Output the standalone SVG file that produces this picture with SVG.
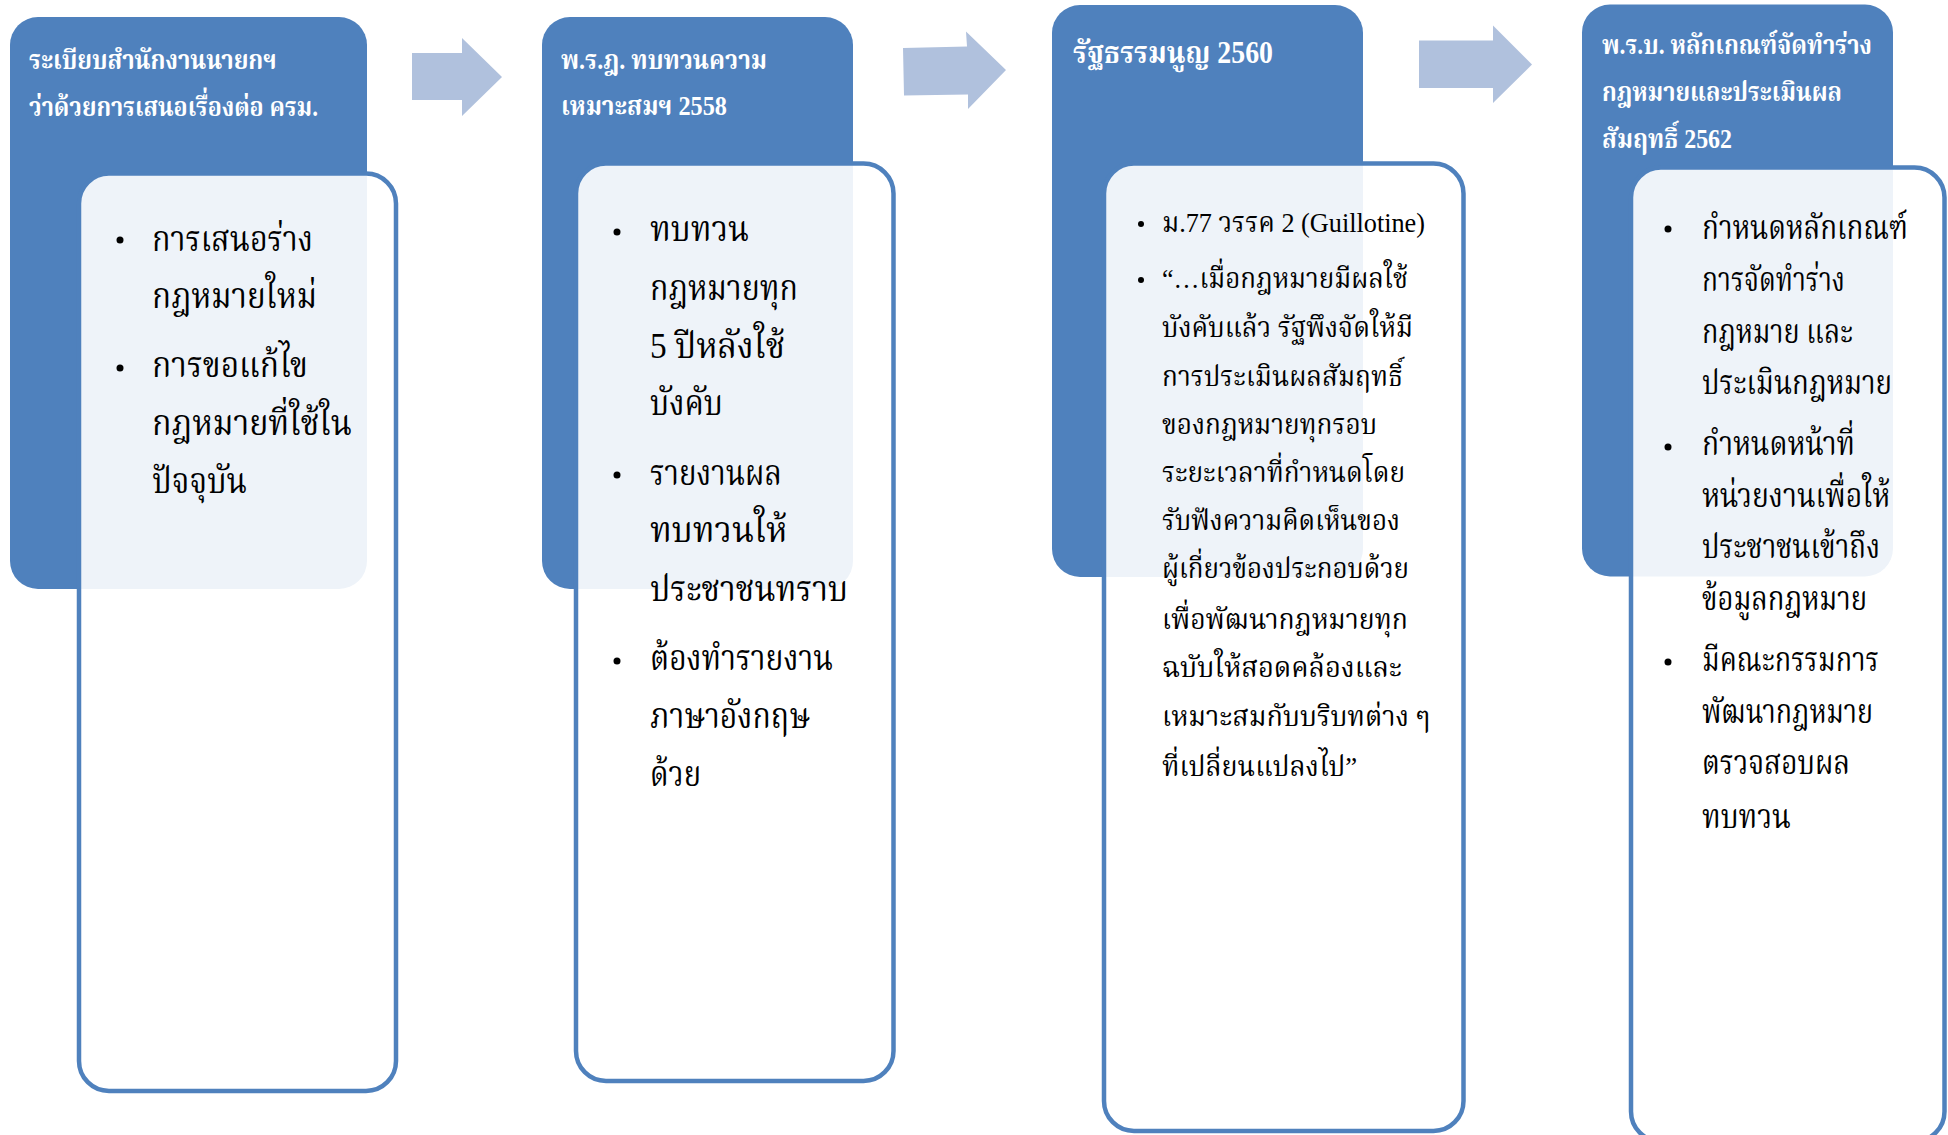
<svg xmlns="http://www.w3.org/2000/svg" width="1948" height="1135" viewBox="0 0 1948 1135">
<style>
.hdr{fill:#4F81BD}
.box{fill:#FFFFFF;fill-opacity:0.9;stroke:#4F81BD;stroke-width:4.5}
.arw{fill:#B0C1DD}
.t{font-family:"Liberation Serif","Noto Serif Thai","Noto Sans Thai",serif;font-weight:bold;fill:#FFFFFF;font-size:27px}
.b{font-family:"Liberation Serif","Noto Serif Thai","Noto Sans Thai",serif;fill:#000000}
.b1{font-size:36px}
.b3{font-size:28px}
.b4{font-size:33px}
.dot{fill:#000000}
</style>
<rect width="1948" height="1135" fill="#FFFFFF"/>
<g id="connectors">
<polygon class="arw" points="412,53 462,53 462,38 502,77 462,116 462,100 412,100"/>
<polygon class="arw" points="903,48 967,46.5 966,31.5 1006,70 968,109 968,94.5 904,95.5"/>
<polygon class="arw" points="1419,40.5 1493,40.5 1493,25.5 1532,64.5 1493,103 1493,88 1419,88"/>
</g>
<g id="node1">
<rect class="hdr" x="10" y="17" width="357" height="572" rx="28"/>
<rect class="box" x="79" y="173.5" width="317" height="917.5" rx="30"/>
<text class="t" x="29" y="69" textLength="248" lengthAdjust="spacingAndGlyphs">ระเบียบสำนักงานนายกฯ</text>
<text class="t" x="29" y="115.5" textLength="289" lengthAdjust="spacingAndGlyphs">ว่าด้วยการเสนอเรื่องต่อ ครม.</text>
<circle class="dot" cx="120" cy="240" r="3.5"/>
<circle class="dot" cx="120" cy="368" r="3.5"/>
<g class="b b1">
<text x="152" y="250.5" textLength="161" lengthAdjust="spacingAndGlyphs">การเสนอร่าง</text>
<text x="152" y="307.5" textLength="165" lengthAdjust="spacingAndGlyphs">กฎหมายใหม่</text>
<text x="152" y="377" textLength="156" lengthAdjust="spacingAndGlyphs">การขอแก้ไข</text>
<text x="152" y="434.7" textLength="200" lengthAdjust="spacingAndGlyphs">กฎหมายที่ใช้ใน</text>
<text x="152" y="492.5" textLength="95" lengthAdjust="spacingAndGlyphs">ปัจจุบัน</text>
</g>
</g>
<g id="node2">
<rect class="hdr" x="542" y="17" width="311" height="572" rx="28"/>
<rect class="box" x="576" y="163.5" width="317.5" height="917.5" rx="30"/>
<text class="t" x="561" y="69" textLength="206" lengthAdjust="spacingAndGlyphs">พ.ร.ฎ. ทบทวนความ</text>
<text class="t" x="561" y="114.5" textLength="166" lengthAdjust="spacingAndGlyphs">เหมาะสมฯ 2558</text>
<circle class="dot" cx="617" cy="232" r="3.5"/>
<circle class="dot" cx="617" cy="475" r="3.5"/>
<circle class="dot" cx="617" cy="661" r="3.5"/>
<g class="b b1">
<text x="650" y="240.5" textLength="99" lengthAdjust="spacingAndGlyphs">ทบทวน</text>
<text x="650" y="299.7" textLength="148" lengthAdjust="spacingAndGlyphs">กฎหมายทุก</text>
<text x="650" y="357.7" textLength="135" lengthAdjust="spacingAndGlyphs">5 ปีหลังใช้</text>
<text x="650" y="414.7" textLength="73" lengthAdjust="spacingAndGlyphs">บังคับ</text>
<text x="650" y="485" textLength="132" lengthAdjust="spacingAndGlyphs">รายงานผล</text>
<text x="650" y="542" textLength="137" lengthAdjust="spacingAndGlyphs">ทบทวนให้</text>
<text x="650" y="601" textLength="198" lengthAdjust="spacingAndGlyphs">ประชาชนทราบ</text>
<text x="650" y="670" textLength="183" lengthAdjust="spacingAndGlyphs">ต้องทำรายงาน</text>
<text x="650" y="728" textLength="160" lengthAdjust="spacingAndGlyphs">ภาษาอังกฤษ</text>
<text x="650" y="786" textLength="51" lengthAdjust="spacingAndGlyphs">ด้วย</text>
</g>
</g>
<g id="node3">
<rect class="hdr" x="1052" y="5" width="311" height="572" rx="28"/>
<rect class="box" x="1104" y="163.5" width="359.5" height="967.5" rx="30"/>
<text class="t" x="1073" y="62.5" style="font-size:31px" textLength="200" lengthAdjust="spacingAndGlyphs">รัฐธรรมนูญ 2560</text>
<circle class="dot" cx="1141" cy="224" r="3"/>
<circle class="dot" cx="1141" cy="280" r="3"/>
<g class="b b3">
<text x="1162" y="232" textLength="263" lengthAdjust="spacingAndGlyphs">ม.77 วรรค 2 (Guillotine)</text>
<text x="1162" y="287.7" textLength="246" lengthAdjust="spacingAndGlyphs">“…เมื่อกฎหมายมีผลใช้</text>
<text x="1162" y="336.5" textLength="251" lengthAdjust="spacingAndGlyphs">บังคับแล้ว รัฐพึงจัดให้มี</text>
<text x="1162" y="385.7" textLength="241" lengthAdjust="spacingAndGlyphs">การประเมินผลสัมฤทธิ์</text>
<text x="1162" y="433.7" textLength="215" lengthAdjust="spacingAndGlyphs">ของกฎหมายทุกรอบ</text>
<text x="1162" y="482" textLength="243" lengthAdjust="spacingAndGlyphs">ระยะเวลาที่กำหนดโดย</text>
<text x="1162" y="530" textLength="238" lengthAdjust="spacingAndGlyphs">รับฟังความคิดเห็นของ</text>
<text x="1162" y="578" textLength="247" lengthAdjust="spacingAndGlyphs">ผู้เกี่ยวข้องประกอบด้วย</text>
<text x="1162" y="629" textLength="246" lengthAdjust="spacingAndGlyphs">เพื่อพัฒนากฎหมายทุก</text>
<text x="1162" y="676.7" textLength="240" lengthAdjust="spacingAndGlyphs">ฉบับให้สอดคล้องและ</text>
<text x="1162" y="726" textLength="268" lengthAdjust="spacingAndGlyphs">เหมาะสมกับบริบทต่าง ๆ</text>
<text x="1162" y="776" textLength="195" lengthAdjust="spacingAndGlyphs">ที่เปลี่ยนแปลงไป”</text>
</g>
</g>
<g id="node4">
<rect class="hdr" x="1582" y="4.5" width="311" height="572" rx="28"/>
<rect class="box" x="1631" y="167.5" width="313.5" height="974" rx="30"/>
<text class="t" x="1602" y="54" textLength="270" lengthAdjust="spacingAndGlyphs">พ.ร.บ. หลักเกณฑ์จัดทำร่าง</text>
<text class="t" x="1602" y="101" textLength="240" lengthAdjust="spacingAndGlyphs">กฎหมายและประเมินผล</text>
<text class="t" x="1602" y="148" textLength="130" lengthAdjust="spacingAndGlyphs">สัมฤทธิ์ 2562</text>
<circle class="dot" cx="1668" cy="229" r="3.5"/>
<circle class="dot" cx="1668" cy="447" r="3.5"/>
<circle class="dot" cx="1668" cy="662" r="3.5"/>
<g class="b b4">
<text x="1702" y="238.5" textLength="206" lengthAdjust="spacingAndGlyphs">กำหนดหลักเกณฑ์</text>
<text x="1702" y="290.7" textLength="143" lengthAdjust="spacingAndGlyphs">การจัดทำร่าง</text>
<text x="1702" y="342.7" textLength="151" lengthAdjust="spacingAndGlyphs">กฎหมาย และ</text>
<text x="1702" y="393.7" textLength="190" lengthAdjust="spacingAndGlyphs">ประเมินกฎหมาย</text>
<text x="1702" y="454.7" textLength="153" lengthAdjust="spacingAndGlyphs">กำหนดหน้าที่</text>
<text x="1702" y="507" textLength="188" lengthAdjust="spacingAndGlyphs">หน่วยงานเพื่อให้</text>
<text x="1702" y="558" textLength="178" lengthAdjust="spacingAndGlyphs">ประชาชนเข้าถึง</text>
<text x="1702" y="610" textLength="165" lengthAdjust="spacingAndGlyphs">ข้อมูลกฎหมาย</text>
<text x="1702" y="671" textLength="177" lengthAdjust="spacingAndGlyphs">มีคณะกรรมการ</text>
<text x="1702" y="723" textLength="171" lengthAdjust="spacingAndGlyphs">พัฒนากฎหมาย</text>
<text x="1702" y="774" textLength="148" lengthAdjust="spacingAndGlyphs">ตรวจสอบผล</text>
<text x="1702" y="827.5" textLength="89" lengthAdjust="spacingAndGlyphs">ทบทวน</text>
</g>
</g>
</svg>
